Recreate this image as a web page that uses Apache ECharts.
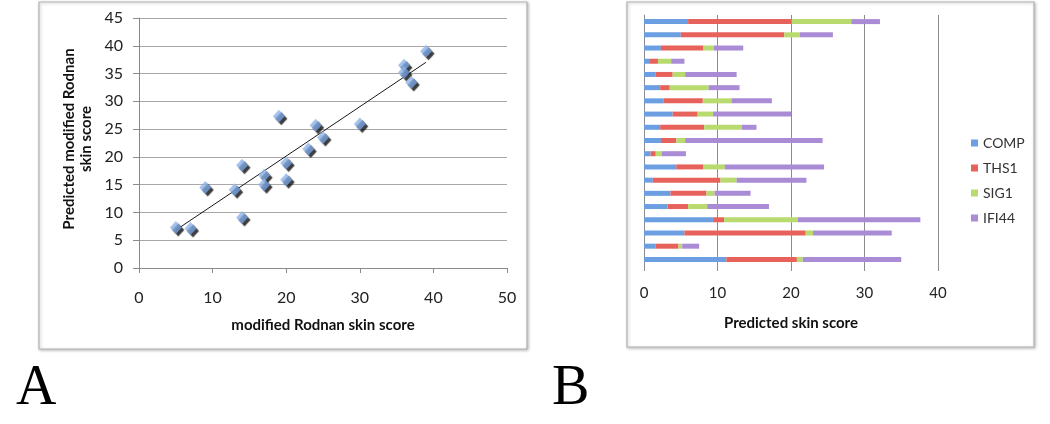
<!DOCTYPE html>
<html>
<head>
<meta charset="utf-8">
<script src="https://cdn.jsdelivr.net/npm/echarts@6/dist/echarts.min.js"></script>
<style>
  html, body { margin: 0; padding: 0; background: #ffffff; }
  #chart { width: 1050px; height: 424px; }
</style>
</head>
<body>
<div id="chart"></div>
<script>
// ---- Panel A: scatter data ----
const mrssObserved = [5, 7, 9, 13, 14, 14, 17, 17, 19, 20, 20, 23, 24, 25, 30, 36, 36, 37, 39];
const mrssPredicted = [7.3, 7.1, 14.5, 14.1, 18.5, 9.1, 16.7, 15.0, 27.3, 18.9, 15.9, 21.4, 25.7, 23.5, 25.9, 36.5, 35.2, 33.4, 39.0];
const scatterXTicks = [0, 10, 20, 30, 40, 50];
const scatterYTicks = [0, 5, 10, 15, 20, 25, 30, 35, 40, 45];

// ---- Panel B: stacked bar data (top bar first) ----
const barCategories = ['1','2','3','4','5','6','7','8','9','10','11','12','13','14','15','16','17','18','19'];
const seriesNames = ['COMP', 'THS1', 'SIG1', 'IFI44'];
const compValues = [6.0, 5.0, 2.3, 0.7, 1.6, 2.2, 2.7, 3.9, 2.2, 2.3, 0.9, 4.4, 1.2, 3.6, 3.2, 9.4, 5.5, 1.6, 11.2];
const ths1Values = [14.1, 14.1, 5.8, 1.2, 2.3, 1.3, 5.3, 3.4, 6.0, 2.1, 0.7, 3.7, 9.2, 4.9, 2.8, 1.5, 16.5, 3.1, 9.6];
const sig1Values = [8.1, 2.1, 1.4, 1.8, 1.7, 5.3, 3.9, 2.1, 5.1, 1.2, 0.8, 2.9, 2.2, 1.1, 2.6, 10.0, 1.0, 0.5, 0.8];
const ifi44Values = [3.9, 4.5, 4.0, 1.8, 7.0, 4.2, 5.5, 10.6, 2.0, 18.7, 3.3, 13.5, 9.5, 4.9, 8.4, 16.7, 10.7, 2.3, 13.4];
const barXTicks = [0, 10, 20, 30, 40];

// least-squares trendline from the scatter data
function fitLine(xs, ys) {
  const n = xs.length;
  const mx = xs.reduce((a, b) => a + b, 0) / n;
  const my = ys.reduce((a, b) => a + b, 0) / n;
  let sxy = 0, sxx = 0;
  for (let i = 0; i < n; i++) { sxy += (xs[i] - mx) * (ys[i] - my); sxx += (xs[i] - mx) * (xs[i] - mx); }
  const slope = sxy / sxx;
  const icpt = my - slope * mx;
  const x0 = Math.min(...xs), x1 = Math.max(...xs);
  return [[x0, icpt + slope * x0], [x1, icpt + slope * x1]];
}
const trend = fitLine(mrssObserved, mrssPredicted);

const FONT = 'Lato, "Open Sans", sans-serif';
const colors = ['#6b9fe2', '#e8625c', '#b9da6e', '#a98bd6'];

const chart = echarts.init(document.getElementById('chart'), null, { renderer: 'canvas' });

const option = {
  backgroundColor: '#ffffff',
  animation: false,
  color: colors,
  textStyle: { fontFamily: FONT },
  graphic: [
    { type: 'rect', z: -10, shape: { x: 39, y: 2, width: 488, height: 347 },
      style: { fill: '#ffffff', stroke: '#b4b4b4', lineWidth: 1.2, shadowColor: 'rgba(0,0,0,0.25)', shadowBlur: 3, shadowOffsetX: 1, shadowOffsetY: 1 } },
    { type: 'rect', z: -10, shape: { x: 627, y: 2, width: 407, height: 345 },
      style: { fill: '#ffffff', stroke: '#b4b4b4', lineWidth: 1.2, shadowColor: 'rgba(0,0,0,0.25)', shadowBlur: 3, shadowOffsetX: 1, shadowOffsetY: 1 } },
    { type: 'text', x: 78, y: 139, rotation: Math.PI / 2, z: 10,
      style: { text: 'Predicted modified Rodnan\nskin score', fill: '#111', font: 'bold 15px ' + FONT,
               textAlign: 'center', textVerticalAlign: 'middle', lineHeight: 17 } },
    { type: 'text', x: 16, y: 417, z: 10,
      style: { text: 'A', fill: '#000', font: '56px "Liberation Serif", "DejaVu Serif", serif', textAlign: 'left', textVerticalAlign: 'bottom' } },
    { type: 'text', x: 552, y: 417, z: 10,
      style: { text: 'B', fill: '#000', font: '56px "Liberation Serif", "DejaVu Serif", serif', textAlign: 'left', textVerticalAlign: 'bottom' } }
  ],
  legend: {
    orient: 'vertical',
    left: 966,
    top: 131,
    itemWidth: 7,
    itemHeight: 7,
    itemGap: 11,
    icon: 'rect',
    data: seriesNames,
    textStyle: { fontFamily: FONT, fontSize: 14, color: '#333' }
  },
  grid: [
    { left: 139, top: 18, width: 368, height: 250, containLabel: false },
    { left: 644, top: 15, width: 294, height: 251, containLabel: false }
  ],
  xAxis: [
    {
      gridIndex: 0, type: 'value', min: 0, max: 50, interval: 10,
      name: 'modified Rodnan skin score', nameLocation: 'middle', nameGap: 50,
      nameTextStyle: { fontFamily: FONT, fontWeight: 'bold', fontSize: 15, color: '#111' },
      axisLine: { show: true, lineStyle: { color: '#8a8a8a', width: 1 } },
      axisTick: { show: true, length: 5, lineStyle: { color: '#8a8a8a' } },
      axisLabel: { margin: 22, fontSize: 16, color: '#222', fontFamily: FONT },
      splitLine: { show: false }
    },
    {
      gridIndex: 1, type: 'value', min: 0, max: 40, interval: 10,
      name: 'Predicted skin score', nameLocation: 'middle', nameGap: 50,
      nameTextStyle: { fontFamily: FONT, fontWeight: 'bold', fontSize: 15, color: '#111' },
      axisLine: { show: false },
      axisTick: { show: true, length: 5, lineStyle: { color: '#8c8c8c' } },
      axisLabel: { margin: 20, fontSize: 15, color: '#222', fontFamily: FONT },
      splitLine: { show: true, lineStyle: { color: '#8c8c8c', width: 1 } }
    }
  ],
  yAxis: [
    {
      gridIndex: 0, type: 'value', min: 0, max: 45, interval: 5,
      axisLine: { show: true, lineStyle: { color: '#8a8a8a', width: 1 } },
      axisTick: { show: true, length: 6, lineStyle: { color: '#8a8a8a' } },
      axisLabel: { margin: 16, fontSize: 16, color: '#222', fontFamily: FONT },
      splitLine: { show: true, lineStyle: { color: '#a8a8a8', width: 1 } }
    },
    {
      gridIndex: 1, type: 'category', data: barCategories, inverse: true,
      axisLine: { show: true, lineStyle: { color: '#8c8c8c', width: 1 } },
      axisTick: { show: false },
      axisLabel: { show: false },
      splitLine: { show: false }
    }
  ],
  series: [
    {
      type: 'line', xAxisIndex: 0, yAxisIndex: 0,
      data: trend, showSymbol: false, symbol: 'none',
      lineStyle: { color: '#1a1a1a', width: 1 }, z: 3, silent: true
    },
    {
      type: 'scatter', xAxisIndex: 0, yAxisIndex: 0,
      data: mrssObserved.map((x, i) => [x, mrssPredicted[i]]),
      symbol: 'diamond', symbolSize: [12, 13], z: 4,
      itemStyle: {
        color: new echarts.graphic.LinearGradient(0, 0, 1, 1, [
          { offset: 0, color: '#a9c6f0' }, { offset: 1, color: '#5d8fd8' }
        ]),
        shadowColor: 'rgba(0,0,0,0.95)', shadowBlur: 1, shadowOffsetX: 2.5, shadowOffsetY: 2.5
      }
    },
    { name: 'COMP', type: 'bar', stack: 'total', xAxisIndex: 1, yAxisIndex: 1, barWidth: 5, data: compValues, itemStyle: { color: colors[0] } },
    { name: 'THS1', type: 'bar', stack: 'total', xAxisIndex: 1, yAxisIndex: 1, barWidth: 5, data: ths1Values, itemStyle: { color: colors[1] } },
    { name: 'SIG1', type: 'bar', stack: 'total', xAxisIndex: 1, yAxisIndex: 1, barWidth: 5, data: sig1Values, itemStyle: { color: colors[2] } },
    { name: 'IFI44', type: 'bar', stack: 'total', xAxisIndex: 1, yAxisIndex: 1, barWidth: 5, data: ifi44Values, itemStyle: { color: colors[3] } }
  ]
};
chart.setOption(option);
</script>
</body>
</html>
